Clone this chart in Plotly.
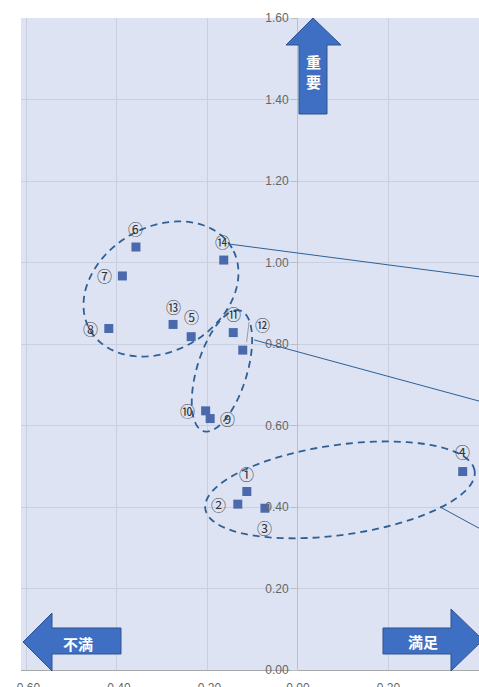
import numpy as np
import plotly.graph_objects as go

# ---------------- data ----------------
labels = ["①", "②", "③", "④", "⑤", "⑥", "⑦", "⑧", "⑨", "⑩", "⑪", "⑫", "⑬", "⑭"]
satisfaction = [-0.113, -0.133, -0.073, 0.364, -0.236, -0.358, -0.388, -0.418,
                -0.194, -0.204, -0.143, -0.122, -0.276, -0.164]
importance = [0.438, 0.407, 0.397, 0.487, 0.818, 1.038, 0.967, 0.838,
              0.617, 0.636, 0.828, 0.785, 0.848, 1.006]

x_tickvals = [-0.6, -0.4, -0.2, 0.0, 0.2, 0.4]
x_ticktext = ["-0.60", "-0.40", "-0.20", "0.00", "0.20", "0.40"]
y_tickvals = [0.0, 0.2, 0.4, 0.6, 0.8, 1.0, 1.2, 1.4, 1.6]
y_ticktext = ["0.00", "0.20", "0.40", "0.60", "0.80", "1.00", "1.20", "1.40", "1.60"]

arrow_up_text = "重<br>要"
arrow_left_text = "不満"
arrow_right_text = "満足"

# ---------------- layout geometry ----------------
W, H = 479, 687
ML, MR, MT, MB = 21, 0, 18, 17
PW, PH = W - ML - MR, H - MT - MB
XR = [-0.612, 0.40]
YR = [0.0, 1.6]
SX = PW / (XR[1] - XR[0])   # px per x unit
SY = PH / (YR[1] - YR[0])   # px per y unit

# label offsets (px) : (xshift, yshift)
label_shift = [(0, 18), (-19, 0), (0, -19), (0, 20), (0, 20), (0, 19), (-18, 0),
               (-18, 0), (17, 0), (-18, 0), (0, 19), (20, 26), (0, 18), (-1, 19)]

BLUE_DARK = "#2e6096"
MARK = "#4a6aad"


def ellipse_path(cx, cy, a, b, ang, n=120):
    t = np.linspace(0, 2 * np.pi, n)
    th = np.deg2rad(ang)
    dx = a * np.cos(t) * np.cos(th) - b * np.sin(t) * np.sin(th)
    dy = a * np.cos(t) * np.sin(th) + b * np.sin(t) * np.cos(th)
    xs = cx + dx / SX
    ys = cy + dy / SY
    return "M " + " L ".join(f"{x:.5f},{y:.5f}" for x, y in zip(xs, ys)) + " Z"


def pp(px, py):
    return (px - ML) / PW, (H - MB - py) / PH


def poly_paper(pts):
    s = []
    for i, (px, py) in enumerate(pts):
        x, y = pp(px, py)
        s.append(("M " if i == 0 else "L ") + f"{x:.5f},{y:.5f}")
    return " ".join(s) + " Z"


fig = go.Figure()
fig.add_trace(go.Scatter(
    x=satisfaction, y=importance, mode="markers",
    marker=dict(symbol="square", size=9, color=MARK),
    hoverinfo="skip", showlegend=False, cliponaxis=False,
))

shapes = []
# dashed ellipses (centres in data units, axes in px, angle in degrees)
for cx, cy, a, b, ang in [(-0.3027, 0.935, 82, 62, 30),
                          (-0.168, 0.734, 63, 25, 73),
                          (0.0928, 0.442, 136, 45, 8)]:
    shapes.append(dict(type="path", xref="x", yref="y", path=ellipse_path(cx, cy, a, b, ang),
                       line=dict(color=BLUE_DARK, width=1.8, dash="7px,5px")))

# leader lines to the right
for x0, y0, x1, y1 in [(-0.150, 1.045, 0.40, 0.965),
                       (-0.097, 0.810, 0.40, 0.660),
                       (0.314, 0.400, 0.40, 0.348)]:
    shapes.append(dict(type="line", xref="x", yref="y", x0=x0, y0=y0, x1=x1, y1=y1,
                       line=dict(color=BLUE_DARK, width=1)))
# small gray leader for ⑫
shapes.append(dict(type="line", xref="x", yref="y", x0=-0.1135, y0=0.805, x1=-0.108, y1=0.854,
                   line=dict(color="#9a9a9a", width=1)))

# block arrows (pixel polygons -> paper)
ARROW_FILL = "#3f6fc2"
ARROW_LINE = "#2f528f"
up = [(313, 18), (341, 45), (327, 45), (327, 114), (299, 114), (299, 45), (286, 45)]
left = [(23, 642), (52, 613), (52, 628), (121, 628), (121, 654), (52, 654), (52, 671)]
right = [(483, 640), (451, 609), (451, 628), (383, 628), (383, 654), (451, 654), (451, 671)]
for poly in (up, left, right):
    shapes.append(dict(type="path", xref="paper", yref="paper", path=poly_paper(poly),
                       fillcolor=ARROW_FILL, line=dict(color=ARROW_LINE, width=1), layer="above"))

annotations = []
for lab, x, y, (xs, ys) in zip(labels, satisfaction, importance, label_shift):
    annotations.append(dict(x=x, y=y, xref="x", yref="y", text=lab, showarrow=False,
                            xshift=xs, yshift=ys,
                            font=dict(family="Noto Sans CJK JP, DejaVu Sans", size=15, color="#333333")))

CJK = "Noto Sans CJK JP"
for txt, (px, py), sz in [(arrow_up_text, (313, 72), 15),
                          (arrow_left_text, (78, 643), 15),
                          (arrow_right_text, (423, 641), 15)]:
    x, y = pp(px, py)
    annotations.append(dict(x=x, y=y, xref="paper", yref="paper", text=f"<b>{txt}</b>",
                            showarrow=False, xanchor="center", yanchor="middle",
                            font=dict(family=CJK, size=sz, color="white")))

fig.update_layout(
    width=W, height=H,
    margin=dict(l=ML, r=MR, t=MT, b=MB, pad=0, autoexpand=False),
    plot_bgcolor="#dde3f2", paper_bgcolor="white",
    shapes=shapes, annotations=annotations,
    font=dict(family="Liberation Sans, Arial", size=12, color="#666666"),
    xaxis=dict(range=XR, tickvals=x_tickvals, ticktext=x_ticktext, automargin=False,
               showgrid=True, gridcolor="#c9cfdf", gridwidth=1,
               zeroline=True, zerolinecolor="#b9bfcf", zerolinewidth=1,
               ticks="outside", ticklen=7, tickcolor="rgba(0,0,0,0)",
               tickfont=dict(size=12, color="#666666"), fixedrange=True),
    yaxis=dict(range=YR, tickvals=y_tickvals, ticktext=y_ticktext, automargin=False,
               anchor="free", position=(0 - XR[0]) / (XR[1] - XR[0]),
               showgrid=True, gridcolor="#c9cfdf", gridwidth=1,
               zeroline=True, zerolinecolor="#a9a9a9", zerolinewidth=1,
               ticks="outside", ticklen=7, tickcolor="#bdbdbd",
               tickfont=dict(size=12, color="#666666"), fixedrange=True),
)

fig.write_html("out.html", config={"displayModeBar": False},
               post_script="document.body.style.margin='0';document.body.style.overflow='hidden';")
